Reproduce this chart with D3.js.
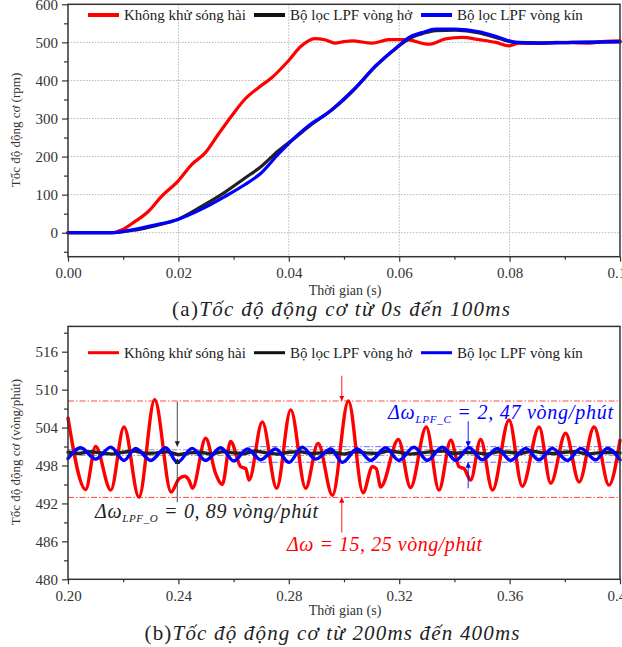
<!DOCTYPE html>
<html><head><meta charset="utf-8">
<script src="https://cdn.jsdelivr.net/npm/d3@7"></script>
<style>body{margin:0;background:#fff}svg{display:block}svg text{font-family:"Liberation Serif","DejaVu Serif",serif !important}</style>
</head><body>
<svg id="c" width="622" height="647"></svg>
<script>
// ---------- DATA ----------
const seriesNames = ["Không khử sóng hài", "Bộ lọc LPF vòng hở", "Bộ lọc LPF vòng kín"];
const seriesColors = ["#ff0000", "#222222", "#0000ff"];

// (a) 0 - 100 ms
const aRedT = [0,0.008,0.0097,0.0121,0.0145,0.0169,0.0199,0.0224,0.0248,0.0272,0.0296,0.032,0.0345,0.0369,0.0399,0.0423,0.0447,0.0465,0.0484,0.05,0.0515,0.0551,0.0581,0.0612,0.0654,0.0684,0.0714,0.0745,0.0775,0.0799,0.0817,0.0854,0.0884,0.0944,0.0974,0.1];
const aRedV = [0,0,7,29,55,95,135,179,209,258,306,350,381,407,451,491,510,507,498,502,504,498,507,507,495,509,513,507,500,491,498,497,500,498,503,504];
const aBlackT = [0,0.0079,0.0121,0.0157,0.0199,0.0242,0.0284,0.032,0.035,0.038,0.0411,0.0441,0.0471,0.05,0.0521,0.0557,0.0599,0.0618,0.0642,0.0666,0.0702,0.0745,0.0781,0.0811,0.0854,0.0914,0.1];
const aBlackV = [0,0,7,18,35,69,106,143,174,214,249,284,315,350,380,437,490,510,523,531,532,525,510,500,499,500,501];
const aBlueT = [0,0.0079,0.0121,0.0157,0.0199,0.0242,0.0284,0.032,0.035,0.038,0.0417,0.0441,0.0471,0.05,0.0521,0.0557,0.0599,0.0618,0.0642,0.0666,0.0702,0.0745,0.0781,0.0811,0.0854,0.0914,0.1];
const aBlueV = [0,0,9,20,35,62,95,126,157,205,258,287,315,352,381,438,491,513,526,535,535,528,513,500,498,500,502];
const aXTicks = [0,0.02,0.04,0.06,0.08,0.1];
const aYTicks = [0,100,200,300,400,500,600];

// (b) 200 - 400 ms
const bRedT = [0.2,0.2064,0.21,0.2155,0.2203,0.2257,0.2314,0.2374,0.2402,0.2423,0.2438,0.2451,0.2499,0.2535,0.2559,0.2589,0.2626,0.2644,0.2656,0.2704,0.2756,0.2807,0.2861,0.2906,0.2958,0.3016,0.3069,0.3103,0.3117,0.3133,0.3197,0.3241,0.3298,0.3344,0.3387,0.3417,0.3435,0.3459,0.3495,0.3538,0.3598,0.3646,0.3707,0.3749,0.3803,0.3852,0.3906,0.396,0.4];
const bRedV = [505.5,494.2,501.0,494.1,504.1,493.0,508.4,493.8,495.9,496.3,495.7,494.4,502.3,496.7,495.0,501.8,497.8,497.5,495.7,504.9,494.4,506.8,494.4,501.5,493.3,508.2,493.7,497.8,497.5,494.6,502.1,494.5,504.1,494.1,502.0,497.8,497.5,495.7,502.1,494.1,505.2,494.7,504.1,495.2,503.1,495.4,504.1,494.9,502.0];
const bBlueT = [0.2,0.2046,0.21,0.2155,0.2203,0.2245,0.23,0.2354,0.2396,0.245,0.2499,0.2553,0.2601,0.265,0.2698,0.2752,0.2801,0.2849,0.2897,0.2952,0.2994,0.3048,0.3097,0.3151,0.3199,0.3254,0.3302,0.3356,0.3405,0.3453,0.3501,0.3556,0.3604,0.3658,0.3706,0.3755,0.3809,0.3858,0.3912,0.3954,0.4];
const bBlueV = [499.1,500.8,499.0,500.9,498.8,500.7,498.8,500.8,498.5,500.7,498.8,500.8,498.7,500.6,498.9,500.6,498.5,500.9,499.0,500.6,498.5,500.6,498.8,500.8,498.8,500.9,498.8,500.9,498.8,500.8,498.9,500.7,498.8,500.7,498.9,500.7,498.8,500.7,498.9,500.7,498.9];
const bBlackT = d3.range(0, 51).map(i => 0.2 + i * 0.004);
const bBlackV = [500.1,499.9,500.2,500.0,499.8,500.1,500.3,499.9,500.0,500.2,499.7,500.0,500.1,499.8,500.2,500.0,499.9,500.3,500.0,499.8,500.1,500.2,499.9,500.0,500.1,499.8,500.2,500.0,499.9,500.3,500.1,499.8,500.0,500.2,500.3,499.9,500.1,500.0,499.8,500.2,500.1,499.9,500.3,500.0,499.9,500.1,500.2,499.8,500.0,500.1,500.0];
const bXTicks = [0.2,0.24,0.28,0.32,0.36,0.4];
const bYTicks = [480,486,492,498,504,510,516];

// reference bands (b)
const redBand = [492.95, 508.2];
const blackBand = [499.6, 500.49];
const blueBand = [498.51, 500.98];
const redArrowT = 0.2992, blackArrowT = 0.2396, blueArrowT = 0.345;

// ---------- DRAW ----------
const FONT = "'Liberation Serif','DejaVu Serif',serif";
const svg = d3.select("#c");
const L = 68, R = 620;

function panel(o) {
  const x = d3.scaleLinear().domain(o.xDom).range([L, R]);
  const y = d3.scaleLinear().domain(o.yDom).range([o.bottom, o.top]);
  const g = svg.append("g");
  if (o.grid) {
    g.selectAll(".gx").data(o.xTicks.slice(1, -1)).join("line")
      .attr("x1", d => x(d)).attr("x2", d => x(d)).attr("y1", o.top).attr("y2", o.bottom)
      .attr("stroke", "#b5b5b5").attr("stroke-width", 1).attr("stroke-dasharray", "1.5,1.5");
    g.selectAll(".gy").data(o.yTicks.slice(0, -1)).join("line")
      .attr("x1", L).attr("x2", R).attr("y1", d => y(d)).attr("y2", d => y(d))
      .attr("stroke", "#b5b5b5").attr("stroke-width", 1).attr("stroke-dasharray", "1.5,1.5");
  }
  const xa = g.append("g").attr("transform", `translate(0,${o.bottom})`)
    .call(d3.axisBottom(x).tickValues(o.xTicks).tickFormat(d3.format(".2f")).tickSize(5).tickPadding(6));
  const xm = g.append("g").attr("transform", `translate(0,${o.bottom})`)
    .call(d3.axisBottom(x).tickValues(o.xMinor).tickFormat("").tickSize(3));
  const ya = g.append("g").attr("transform", `translate(${L},0)`)
    .call(d3.axisLeft(y).tickValues(o.yTicks).tickSize(6).tickPadding(4));
  const ym = g.append("g").attr("transform", `translate(${L},0)`)
    .call(d3.axisLeft(y).tickValues(o.yMinor).tickFormat("").tickSize(4));
  [xa, xm, ya, ym].forEach(a => {
    a.attr("font-family", FONT);
    a.select(".domain").remove();
    a.selectAll("line").attr("stroke", "#333").attr("stroke-width", 1.2);
    a.selectAll("text").attr("fill", "#333").style("font-size", "15px");
  });
  return { x, y, g };
}

function frame(top, bottom) {
  svg.append("rect").attr("x", L).attr("y", top).attr("width", R - L).attr("height", bottom - top)
    .attr("fill", "none").attr("stroke", "#333").attr("stroke-width", 1.5);
}

function drawLine(p, T, V, color, w, curve) {
  const line = d3.line().x((d, i) => p.x(T[i])).y(d => p.y(d)).curve(curve);
  p.g.append("path").datum(V).attr("d", line).attr("fill", "none")
    .attr("stroke", color).attr("stroke-width", w).attr("stroke-linejoin", "round").attr("stroke-linecap", "round");
}

function legend(y, w) {
  const xs = [88, 254, 421];
  seriesNames.forEach((n, i) => {
    svg.append("line").attr("x1", xs[i]).attr("x2", xs[i] + 31).attr("y1", y).attr("y2", y)
      .attr("stroke", seriesColors[i] === "#222222" ? "#111" : seriesColors[i]).attr("stroke-width", w);
    svg.append("text").attr("x", xs[i] + 36).attr("y", y).attr("dy", "0.35em")
      .style("font-size", "15px").attr("fill", "#222").text(n);
  });
}

function yTitle(txt, cy) {
  svg.append("text").attr("transform", `translate(15,${cy}) rotate(-90)`).attr("text-anchor", "middle")
    .attr("dy", "0.35em").style("font-size", "13px").attr("fill", "#333").text(txt);
}
function xTitle(cy) {
  svg.append("text").attr("x", 345).attr("y", cy).attr("text-anchor", "middle").attr("dy", "0.35em")
    .style("font-size", "14px").attr("fill", "#333").text("Thời gian (s)");
}
function caption(cy, cx, len, lab, rest) {
  const t = svg.append("text").attr("x", cx).attr("y", cy).attr("text-anchor", "middle").attr("dy", "0.35em")
    .style("font-size", "21px").attr("fill", "#222").attr("textLength", len).attr("lengthAdjust", "spacing");
  t.append("tspan").text(lab);
  t.append("tspan").style("font-style", "italic").text(rest);
}

// ----- panel (a) -----
const pa = panel({ xDom: [0, 0.1], yDom: [-63, 600], top: 4.3, bottom: 256.7, grid: true,
  xTicks: aXTicks, xMinor: [0.01, 0.03, 0.05, 0.07, 0.09], yTicks: aYTicks, yMinor: [-50, 50, 150, 250, 350, 450, 550] });
drawLine(pa, aRedT, aRedV, seriesColors[0], 3.2, d3.curveMonotoneX);
drawLine(pa, aBlackT, aBlackV, seriesColors[1], 3.2, d3.curveMonotoneX);
drawLine(pa, aBlueT, aBlueV, seriesColors[2], 3.2, d3.curveMonotoneX);
frame(4.3, 256.7);
legend(15, 4);
yTitle("Tốc độ động cơ (rpm)", 130);
xTitle(290);
caption(309, 341, 338, "(a)", "Tốc độ động cơ từ 0s đến 100ms");

// ----- panel (b) -----
const pb = panel({ xDom: [0.2, 0.4], yDom: [480, 520], top: 326.4, bottom: 579.3, grid: false,
  xTicks: bXTicks, xMinor: [0.22, 0.26, 0.30, 0.34, 0.38], yTicks: bYTicks, yMinor: [483, 489, 495, 501, 507, 513, 519] });

function band(vals, color, x1, x2) {
  vals.forEach(v => pb.g.append("line").attr("x1", pb.x(x1)).attr("x2", pb.x(x2)).attr("y1", pb.y(v)).attr("y2", pb.y(v))
    .attr("stroke", color).attr("stroke-width", 0.9).attr("stroke-dasharray", "6,2,1.5,2"));
}
band(redBand, "#ff3333", 0.2, 0.4);
band(blackBand, "#8c8c8c", 0.2, 0.4);
band(blueBand, "#5a5aff", 0.2655, 0.4);

drawLine(pb, bRedT, bRedV, seriesColors[0], 3.4, d3.curveMonotoneX);
drawLine(pb, bBlackT, bBlackV, seriesColors[1], 3.4, d3.curveLinear);
drawLine(pb, bBlueT, bBlueV, seriesColors[2], 3.4, d3.curveMonotoneX);
frame(326.4, 579.3);
legend(352.7, 3);
yTitle("Tốc độ động cơ (vòng/phút)", 452);
xTitle(610);
caption(633, 332, 375, "(b)", "Tốc độ động cơ từ 200ms đến 400ms");

// arrows
const defs = svg.append("defs");
[["ar", "#ff0000"], ["ak", "#222"], ["ab", "#0000ff"]].forEach(([id, c]) => {
  defs.append("marker").attr("id", id).attr("viewBox", "0 0 10 10").attr("refX", 10).attr("refY", 5)
    .attr("markerWidth", 6).attr("markerHeight", 6).attr("orient", "auto-start-reverse")
    .append("path").attr("d", "M0,0 L10,5 L0,10 z").attr("fill", c);
});
function arrowPair(t, vTop, vHi, vLo, vBot, color, id, w) {
  const xx = pb.x(t);
  pb.g.append("line").attr("x1", xx).attr("x2", xx).attr("y1", pb.y(vTop)).attr("y2", pb.y(vHi))
    .attr("stroke", color).attr("stroke-width", w).attr("marker-end", `url(#${id})`);
  pb.g.append("line").attr("x1", xx).attr("x2", xx).attr("y1", pb.y(vBot)).attr("y2", pb.y(vLo))
    .attr("stroke", color).attr("stroke-width", w).attr("marker-end", `url(#${id})`);
}
arrowPair(redArrowT, 512.2, redBand[1], redBand[0], 487.4, "#ff0000", "ar", 0.9);
arrowPair(blackArrowT, 508.1, blackBand[1] + 0.5, blackBand[0] - 0.5, 492.2, "#333", "ak", 0.9);
arrowPair(blueArrowT, 505.0, blueBand[1], blueBand[0], 494.4, "#0000ff", "ab", 0.9);

function dLabel(x, y, len, sub, rest, color) {
  const t = svg.append("text").attr("x", x).attr("y", y).style("font-size", "20px")
    .style("font-style", "italic").attr("fill", color).attr("textLength", len).attr("lengthAdjust", "spacing");
  t.append("tspan").text("Δω");
  if (sub) t.append("tspan").attr("dy", 4).style("font-size", "11px").text(sub);
  t.append("tspan").attr("dy", sub ? -4 : 0).text(rest);
}
dLabel(95, 518, 223, "LPF_O", " = 0, 89 vòng/phút", "#222");
dLabel(287, 551, 195, null, " = 15, 25 vòng/phút", "#ff0000");
dLabel(388, 419, 225, "LPF_C", " = 2, 47 vòng/phút", "#0000ff");
</script>
</body></html>
